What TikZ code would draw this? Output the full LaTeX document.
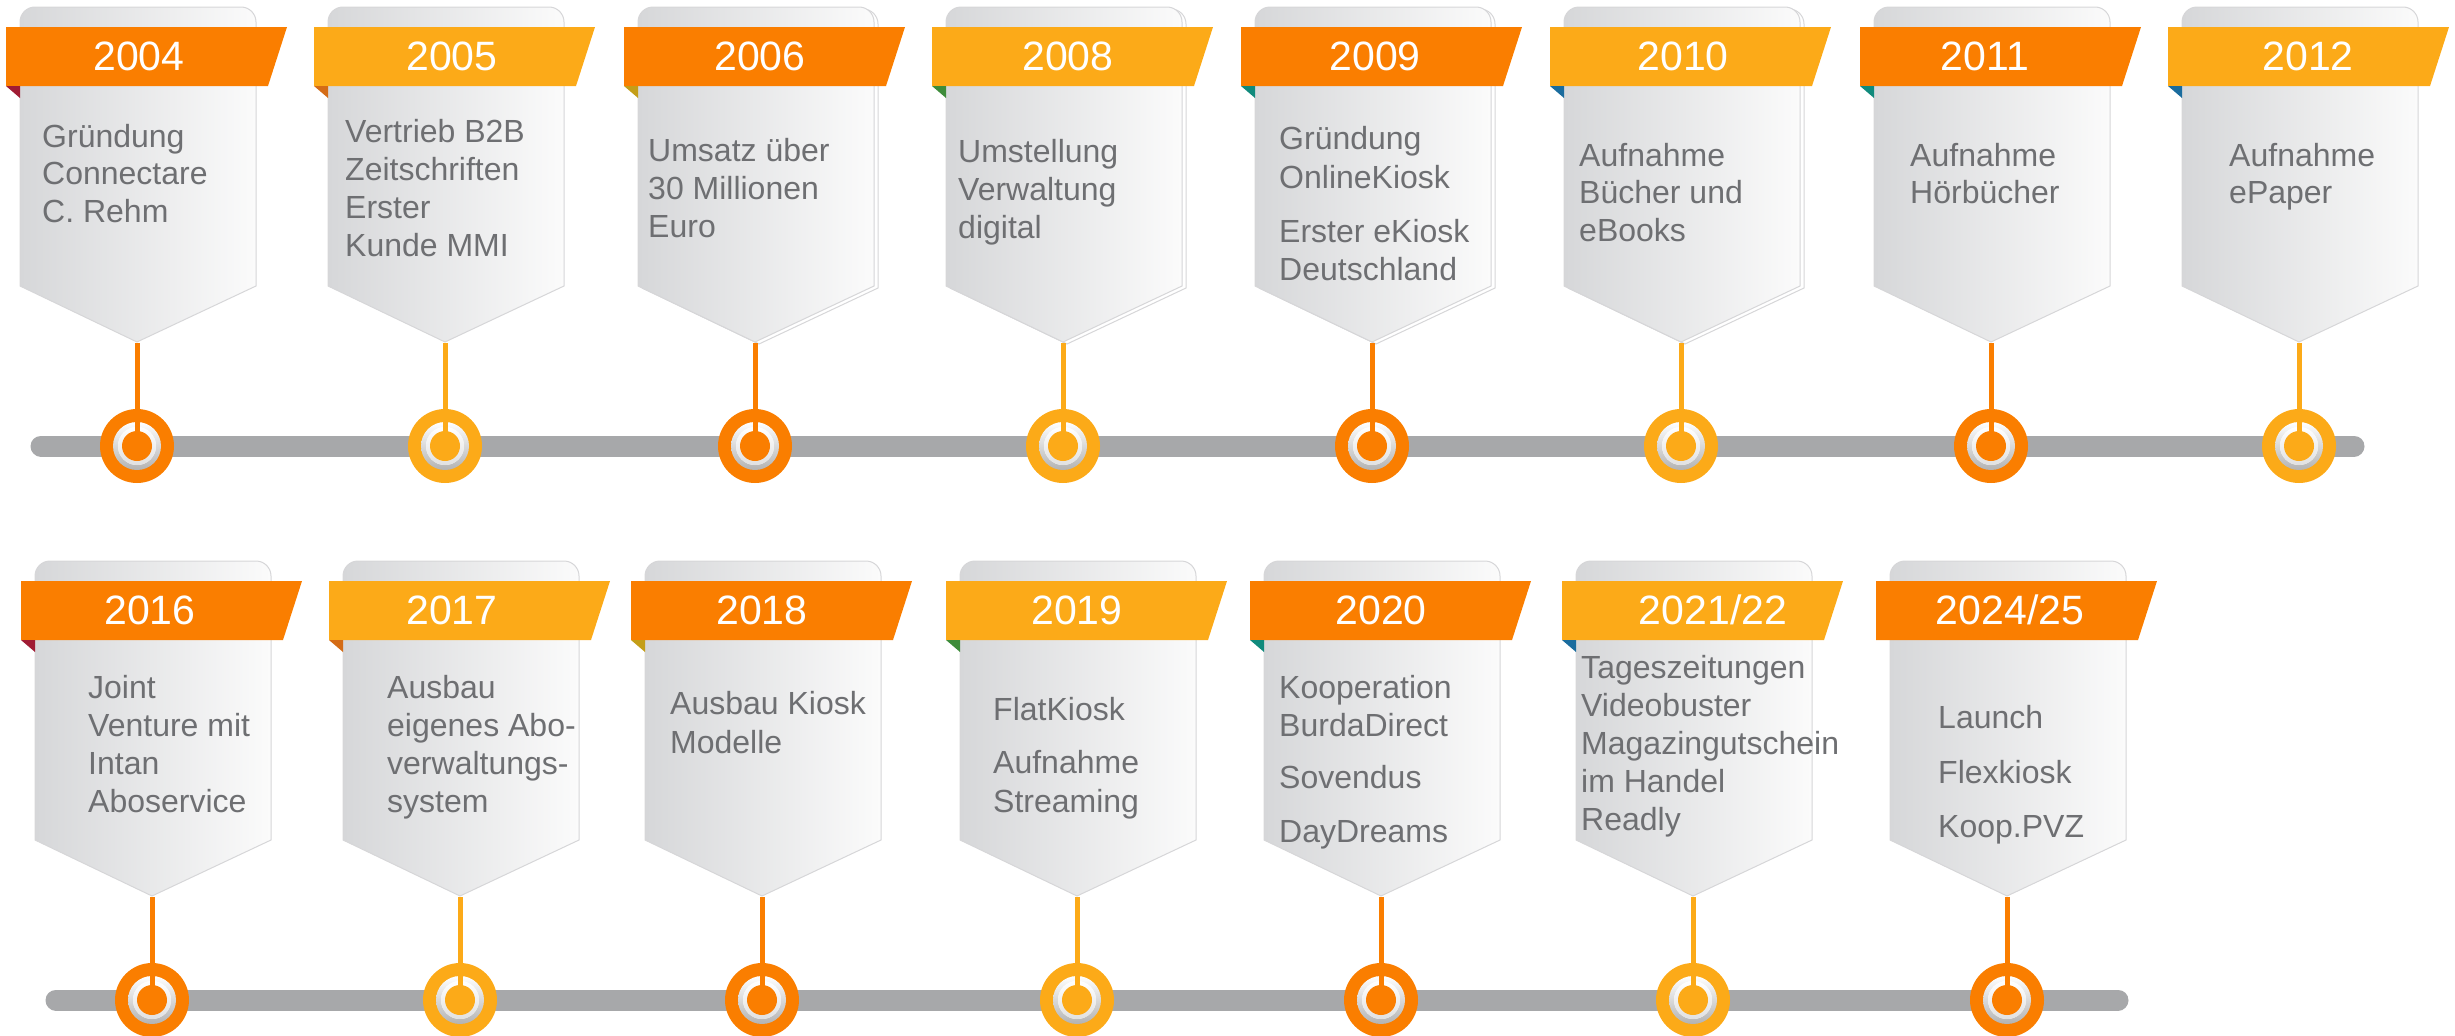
\documentclass[tikz,border=0pt]{standalone}
\usepackage{fontspec}
\setmainfont{Liberation Sans}
\definecolor{orgA}{RGB}{250,126,0}
\definecolor{ambA}{RGB}{252,170,24}
\definecolor{txtG}{RGB}{110,111,114}
\definecolor{barG}{RGB}{167,168,170}
\definecolor{cardL}{RGB}{214,215,217}
\definecolor{cardR}{RGB}{251,251,251}
\definecolor{cardB}{RGB}{214,214,216}
\definecolor{fCrim}{RGB}{160,28,52}
\definecolor{fOrg}{RGB}{212,108,22}
\definecolor{fGold}{RGB}{196,158,24}
\definecolor{fGreen}{RGB}{62,140,58}
\definecolor{fTeal}{RGB}{16,138,124}
\definecolor{fBlue}{RGB}{26,108,158}
\tikzset{
  cardshape/.style={left color=cardL, right color=cardR, draw=cardB, line width=1pt},
  backshape/.style={fill=white, draw=cardB, line width=1pt},
  yeartxt/.style={text=white, font=\fontsize{41}{41}\selectfont, inner sep=0pt},
  bodytxt/.style={text=txtG, font=\fontsize{32}{38}\selectfont, inner sep=0pt, anchor=base west},
  tlbar/.style={draw=barG, line width=21pt, line cap=round},
  stemline/.style={line width=5pt},
  dotnode/.style={circle, minimum size=74pt, inner sep=0pt},
}
% #1 id, #2 cx, #3 yoff, #4 colour, #5 fold colour, #6 year, #7 year dx, #8 back card
\newcommand{\tlcard}[8]{%
  \begin{scope}[shift={(#2,#3)}]
    \ifnum#8=1
      \path[backshape] (4,344) -- (-113,288) -- (-113,24) arc[start angle=180,end angle=270,radius=15] -- (108,9) arc[start angle=270,end angle=360,radius=15] -- (123,288) -- cycle;
    \fi
    \path[cardshape] (0,342) -- (-117,286) -- (-117,22) arc[start angle=180,end angle=270,radius=15] -- (104,7) arc[start angle=270,end angle=360,radius=15] -- (119,286) -- cycle;
    \fill[#4] (-131,27) -- (150,27) -- (131,86) -- (-131,86) -- cycle;
    \path[fill=#5] (-131,86) -- (-117,86) -- (-117,98) -- cycle;
    \node[yeartxt] (yr#1) at (#7,56) {#6};
    \coordinate (tip#1) at (0,343);
    \node[dotnode, fill=#4] (dot#1) at (0,446) {};
    \shade[top color=white, bottom color=black!30] (dot#1.center) circle[radius=24];
    \fill[white] (dot#1.center) circle[radius=19];
    \shade[top color=white, bottom color=black!12] (dot#1.center) circle[radius=19];
    \fill[#4] (dot#1.center) circle[radius=15];
    \draw[stemline, draw=#4] (tip#1) -- (dot#1.center);
  \end{scope}}
\newcommand{\tltext}[3]{%
  \foreach \yy/\tx [count=\k] in {#3} {\node[bodytxt] (b#1-\k) at (#2,\yy) {\tx};}}
\begin{document}
\begin{tikzpicture}[x=1pt,y=-1pt]
\useasboundingbox (0,0) rectangle (2455,1036);
% bars
\coordinate (barAs) at (41,446);
\coordinate (barAe) at (2354,446);
\coordinate (barBs) at (56,1000);
\coordinate (barBe) at (2118,1000);
\draw[tlbar] (barAs) -- (barAe);
\draw[tlbar] (barBs) -- (barBe);
% top row
\tlcard{1}{137}{0}{orgA}{fCrim}{2004}{2}{0}
\tlcard{2}{445}{0}{ambA}{fOrg}{2005}{7}{0}
\tlcard{3}{755}{0}{orgA}{fGold}{2006}{5}{1}
\tlcard{4}{1063}{0}{ambA}{fGreen}{2008}{5}{1}
\tlcard{5}{1372}{0}{orgA}{fTeal}{2009}{3}{1}
\tlcard{6}{1681}{0}{ambA}{fBlue}{2010}{2}{1}
\tlcard{7}{1991}{0}{orgA}{fTeal}{2011}{-6}{0}
\tlcard{8}{2299}{0}{ambA}{fBlue}{2012}{9}{0}
% bottom row
\tlcard{9}{152}{554}{orgA}{fCrim}{2016}{-2}{0}
\tlcard{10}{460}{554}{ambA}{fOrg}{2017}{-8}{0}
\tlcard{11}{762}{554}{orgA}{fGold}{2018}{0}{0}
\tlcard{12}{1077}{554}{ambA}{fGreen}{2019}{0}{0}
\tlcard{13}{1381}{554}{orgA}{fTeal}{2020}{0}{0}
\tlcard{14}{1693}{554}{ambA}{fBlue}{2021/22}{20}{0}
\tlcard{15}{2007}{554}{orgA}{none}{2024/25}{3}{0}
% texts
\tltext{1}{42}{147/Gründung,184/Connectare,222/C. Rehm}
\tltext{2}{345}{142/Vertrieb B2B,180/Zeitschriften,218/Erster,256/Kunde MMI}
\tltext{3}{648}{161/Umsatz über,199/30 Millionen,237/Euro}
\tltext{4}{958}{162/Umstellung,200/Verwaltung,238/digital}
\tltext{5}{1279}{149/Gründung,188/OnlineKiosk,242/Erster eKiosk,280/Deutschland}
\tltext{6}{1579}{166/Aufnahme,203/Bücher und,241/eBooks}
\tltext{7}{1910}{166/Aufnahme,203/Hörbücher}
\tltext{8}{2229}{166/Aufnahme,203/ePaper}
\tltext{9}{88}{698/Joint,736/Venture mit,774/Intan,812/Aboservice}
\tltext{10}{387}{698/Ausbau,736/eigenes Abo-,774/verwaltungs-,812/system}
\tltext{11}{670}{714/Ausbau Kiosk,753/Modelle}
\tltext{12}{993}{720/FlatKiosk,773/Aufnahme,812/Streaming}
\tltext{13}{1279}{698/Kooperation,736/BurdaDirect,788/Sovendus,842/DayDreams}
\tltext{14}{1581}{678/Tageszeitungen,716/Videobuster,754/Magazingutschein,792/im Handel,830/Readly}
\tltext{15}{1938}{728/Launch,783/Flexkiosk,837/Koop.PVZ}
\end{tikzpicture}
\end{document}
